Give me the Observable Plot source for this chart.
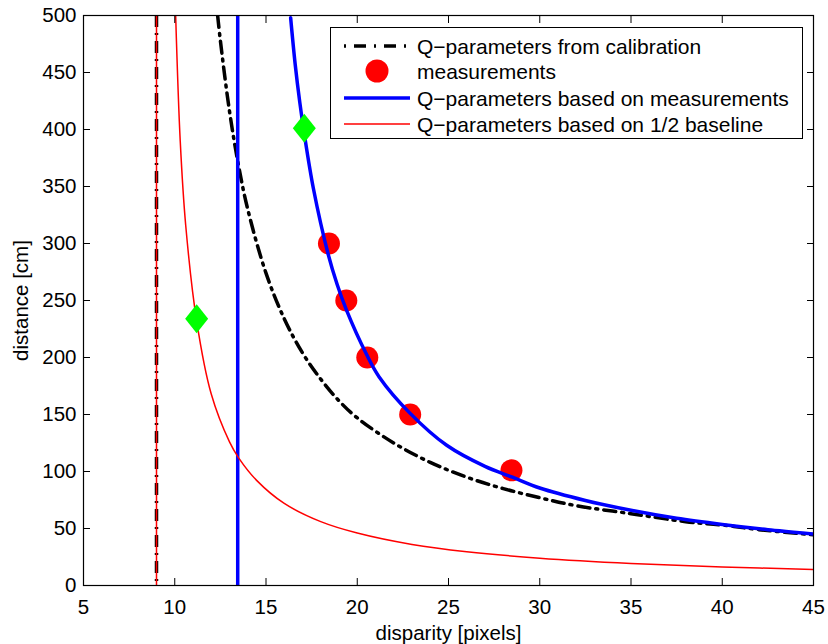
<!DOCTYPE html>
<html>
<head>
<meta charset="utf-8">
<script src="https://cdn.jsdelivr.net/npm/d3@7"></script>
<script src="https://cdn.jsdelivr.net/npm/@observablehq/plot@0.6"></script>
<style>
  html, body { margin: 0; padding: 0; background: white; }
  #wrap { position: relative; width: 828px; height: 644px; font-family: "Liberation Sans", Arial, Helvetica, sans-serif; }
  #legend { position: absolute; left: 330px; top: 27px; width: 473px; height: 112px; border: 1px solid black; background: white; box-sizing: border-box; }
  .row { position: absolute; left: 0; height: 26px; width: 100%; }
  .row svg { position: absolute; left: 12px; top: 0; }
  .row span { position: absolute; left: 86px; top: 50%; transform: translateY(-50%); font-size: 21px; line-height: 1; white-space: nowrap; color: black; }
</style>
</head>
<body>
<div id="wrap"></div>
<script>
// Axis ticks
const xTicks = [5, 10, 15, 20, 25, 30, 35, 40, 45];
const yTicks = [0, 50, 100, 150, 200, 250, 300, 350, 400, 450, 500];

// Q-parameters from calibration (black dash-dot)
const calibD = [12.35, 12.5, 13, 13.5, 14, 15, 16, 17, 18, 19, 20, 22, 24, 26, 28, 30, 32, 35, 38, 40, 42, 45];
const calibZ = [500, 478, 416, 368, 330, 274, 234, 204, 181, 162, 147, 125, 108, 95, 85, 77, 70, 63, 56, 53, 49, 44.5];
const calibPole = [9];

// Measurements (red dots)
const measD = [18.45, 19.4, 20.55, 22.9, 28.45];
const measZ = [300, 250, 200, 150, 101];

// Q-parameters based on measurements (blue)
const measCurveD = [16.35, 16.6, 16.85, 17.1, 17.6, 18.4, 18.9, 19.4, 20.5, 21.2, 22.9, 24.9, 27, 28.5, 30, 32.5, 35, 37.5, 40, 42.5, 45];
const measCurveZ = [498, 457, 424, 396, 348, 291, 264, 242, 203, 183, 151, 123, 104.5, 95, 85.5, 74.6, 66, 59, 53.6, 49, 45.2];
const measPole = [13.45];

// Q-parameters based on 1/2 baseline (red)
const halfD = [10.05, 10.3, 10.6, 11.2, 12, 13, 13.5, 14.5, 16, 18, 20, 23, 26, 30, 35, 40, 45];
const halfZ = [500, 390, 316, 232, 168, 126, 112, 92, 72, 56, 46, 36, 29.6, 24, 19.4, 16.3, 14];
const halfPole = [9];

// Green diamonds
const markD = [11.2, 17.1];
const markZ = [234, 401];

const calib = calibD.map((d, i) => ({d, z: calibZ[i]}));
const meas = measD.map((d, i) => ({d, z: measZ[i]}));
const measCurve = measCurveD.map((d, i) => ({d, z: measCurveZ[i]}));
const half = halfD.map((d, i) => ({d, z: halfZ[i]}));
const marks = markD.map((d, i) => ({d, z: markZ[i]}));

const dashDot = "12,6,2,6";

const tallDiamond = {
  draw(ctx, size) {
    const r = Math.sqrt(size / Math.PI);
    const hw = r, hh = r * 1.26;
    ctx.moveTo(0, -hh);
    ctx.lineTo(hw, 0);
    ctx.lineTo(0, hh);
    ctx.lineTo(-hw, 0);
    ctx.closePath();
  }
};

const chart = Plot.plot({
  width: 828,
  height: 644,
  marginLeft: 83,
  marginRight: 15,
  marginTop: 15,
  marginBottom: 59,
  style: {fontFamily: "'Liberation Sans', Arial, Helvetica, sans-serif", fontSize: "20px", color: "black", background: "white", overflow: "visible"},
  x: {domain: [5, 45], label: null},
  y: {domain: [0, 500], label: null},
  marks: [
    Plot.ruleX(calibPole, {x: d => d, stroke: "black", strokeWidth: 3.5, strokeDasharray: dashDot}),
    Plot.line(calib, {x: "d", y: "z", stroke: "black", strokeWidth: 3.5, strokeDasharray: dashDot, curve: "catmull-rom", clip: true}),
    Plot.dot(meas, {x: "d", y: "z", r: 11, fill: "red", stroke: "none"}),
    Plot.ruleX(measPole, {x: d => d, stroke: "blue", strokeWidth: 3.5}),
    Plot.line(measCurve, {x: "d", y: "z", stroke: "blue", strokeWidth: 3.5, curve: "catmull-rom", clip: true}),
    Plot.ruleX(halfPole, {x: d => d, stroke: "red", strokeWidth: 1.5}),
    Plot.line(half, {x: "d", y: "z", stroke: "red", strokeWidth: 1.5, curve: "catmull-rom", clip: true}),
    Plot.dot(marks, {x: "d", y: "z", r: 11.5, symbol: tallDiamond, fill: "#00ff00", stroke: "none"}),
    Plot.frame({stroke: "black", strokeWidth: 1.2}),
    Plot.axisX({ticks: xTicks, tickSize: 0, tickPadding: 14, label: "disparity [pixels]", labelArrow: "none", labelAnchor: "center", labelOffset: 54, fontSize: 20.5}),
    Plot.axisX({ticks: xTicks, tickSize: -7, tickFormat: () => "", label: null}),
    Plot.axisX({anchor: "top", ticks: xTicks, tickSize: -7, tickFormat: () => "", label: null}),
    Plot.axisY({ticks: yTicks, tickSize: 0, tickPadding: 7, label: "distance [cm]", labelArrow: "none", labelAnchor: "center", labelOffset: 70, fontSize: 20.5}),
    Plot.axisY({ticks: yTicks, tickSize: -7, tickFormat: () => "", label: null}),
    Plot.axisY({anchor: "right", ticks: yTicks, tickSize: -7, tickFormat: () => "", label: null})
  ]
});

const wrap = document.getElementById("wrap");
wrap.appendChild(chart);

// Legend
const legendItems = [
  {label: "Q−parameters from calibration", kind: "line", stroke: "black", width: 3.5, dash: dashDot},
  {label: "measurements", kind: "dot", fill: "red"},
  {label: "Q−parameters based on measurements", kind: "line", stroke: "blue", width: 3.5, dash: null},
  {label: "Q−parameters based on 1/2 baseline", kind: "line", stroke: "red", width: 1.5, dash: null}
];
const rowTops = [5, 30, 57, 83];
const legend = document.createElement("div");
legend.id = "legend";
legendItems.forEach((it, i) => {
  const row = document.createElement("div");
  row.className = "row";
  row.style.top = rowTops[i] + "px";
  const ns = "http://www.w3.org/2000/svg";
  const svg = document.createElementNS(ns, "svg");
  svg.setAttribute("width", 68);
  svg.setAttribute("height", 26);
  if (it.kind === "line") {
    const l = document.createElementNS(ns, "line");
    l.setAttribute("x1", 1); l.setAttribute("x2", 67);
    l.setAttribute("y1", 13); l.setAttribute("y2", 13);
    l.setAttribute("stroke", it.stroke);
    l.setAttribute("stroke-width", it.width);
    if (it.dash) { l.setAttribute("stroke-dasharray", "2,8,12,8"); }
    svg.appendChild(l);
  } else {
    const c = document.createElementNS(ns, "circle");
    c.setAttribute("cx", 34); c.setAttribute("cy", 13); c.setAttribute("r", 11.5);
    c.setAttribute("fill", it.fill);
    svg.appendChild(c);
  }
  row.appendChild(svg);
  const span = document.createElement("span");
  span.textContent = it.label;
  row.appendChild(span);
  legend.appendChild(row);
});
wrap.appendChild(legend);
</script>
</body>
</html>
